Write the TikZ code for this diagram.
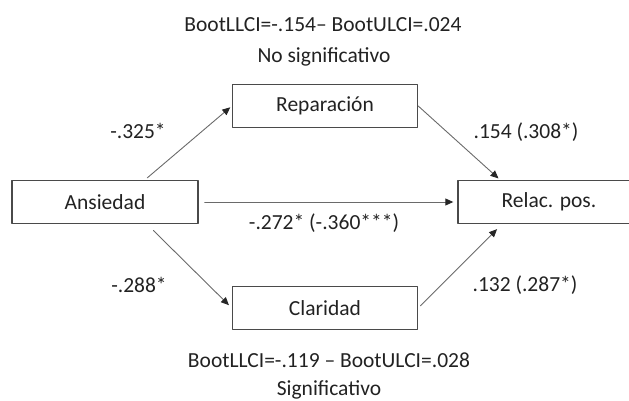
\documentclass[tikz,border=0pt]{standalone}
\usepackage{fontspec}
\setmainfont{Carlito}
\usepackage{xcolor}
\usetikzlibrary{arrows.meta}

\definecolor{txtgray}{HTML}{222222}
\definecolor{boxgray}{HTML}{4A4A4A}
\definecolor{arrgray}{HTML}{6A6A6A}

\begin{document}
\begin{tikzpicture}[line cap=round,line join=round,>={Triangle[length=8pt,width=7pt,color=black!85]},x=1pt,y=1pt,
  every node/.style={text=txtgray,font=\fontsize{21.5}{25}\selectfont},
  varbox/.style={draw=boxgray,line width=1.4pt,minimum height=43pt,inner sep=0pt},
  path/.style={->,arrgray,line width=0.9pt}]
\useasboundingbox (0,0) rectangle (629,401);

% variables
\node [varbox,minimum width=185pt] (rep) at (325,295) {Reparación};
\node [varbox,minimum width=185pt] (cla) at (325,93) {Claridad};
\node [varbox,minimum width=186pt] (ans) at (105,199) {Ansiedad};
\node [varbox,minimum width=182pt] (rel) at (549,199) {Relac. pos.};

% paths
\draw [path,shorten <=3pt,shorten >=2pt] ([xshift=40pt]ans.north) -- (rep.west);
\draw [path,shorten >=2pt] (rep.east) -- ([xshift=-49pt]rel.north);
\draw [path,shorten <=9pt,shorten >=4pt] ([xshift=42pt]ans.south) -- (cla.west);
\draw [path,shorten <=3pt,shorten >=7pt] (cla.east) -- ([xshift=-47pt]rel.south);
\draw [path,shorten <=6pt,shorten >=4pt] (ans) -- (rel);

% coefficients
\node (a1) at (138,270) {-.325*};
\node (b1) at (526,269) {.154 (.308*)};
\node (c) at (324,178) {-.272* (-.360***)};
\node (a2) at (139,116) {-.288*};
\node (b2) at (525,116) {.132 (.287*)};

% indirect effects
\node (ci1) at (323,376) {BootLLCI=-.154– BootULCI=.024};
\node (sig1) at (324,344) {No significativo};
\node (ci2) at (329,41) {BootLLCI=-.119 – BootULCI=.028};
\node (sig2) at (329,11) {Significativo};
\end{tikzpicture}
\end{document}
